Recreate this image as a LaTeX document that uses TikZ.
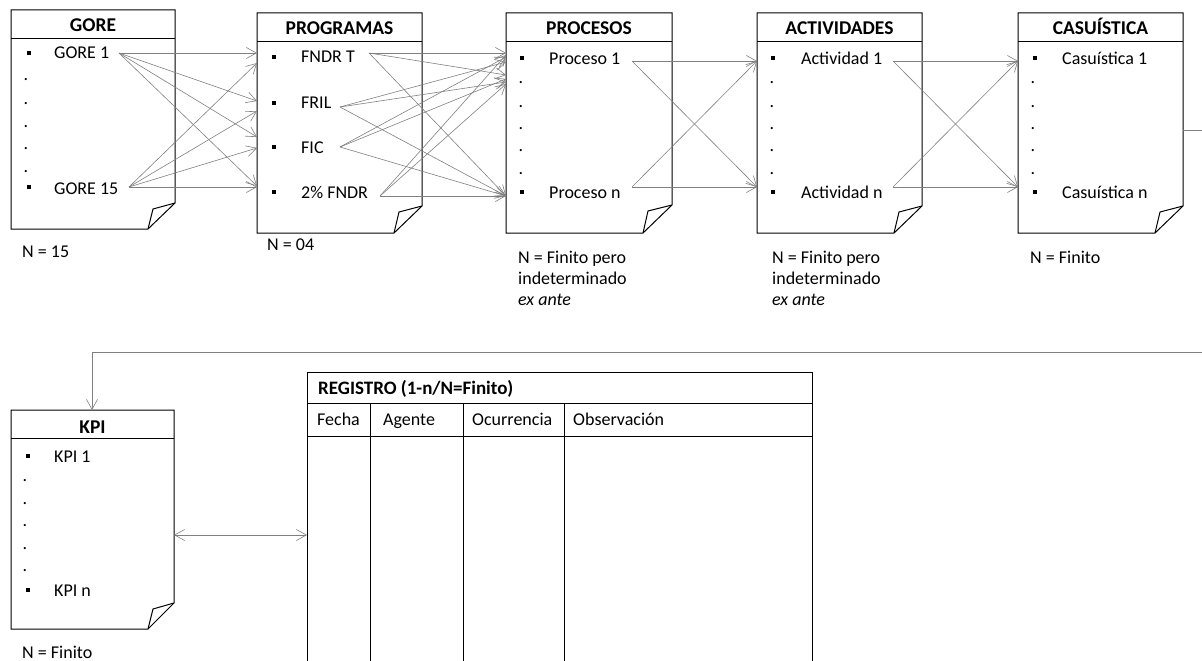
\documentclass[tikz,border=0pt]{standalone}
\usepackage{fontspec}
\setmainfont{Carlito}
\usetikzlibrary{arrows.meta}
\newcommand{\docshape}[7]{%
  \draw[boxline] (#1,#2) -- (#3,#2) -- (#3,#7) -- (#6,#4) -- (#1,#4) -- cycle;
  \draw[boxline] (#1,#5) -- (#3,#5);
  \draw[boxline] (#6,#4) -- (#6+5,#7+6) -- (#3,#7);
}
\begin{document}
\begin{tikzpicture}[x=1pt,y=-1pt,
  boxline/.style={draw=black,line width=1pt,line join=miter},
  tablel/.style={draw=black,line width=1pt},
  conn/.style={draw=black!50,line width=0.6pt,-{Straight Barb[length=10pt,width=11pt]}},
  dconn/.style={draw=black!50,line width=0.6pt,{Straight Barb[length=10pt,width=11pt]}-{Straight Barb[length=10pt,width=11pt]}},
  plain/.style={draw=black!50,line width=0.6pt},
  txt/.style={anchor=base west,inner sep=0pt,font=\fontsize{18}{21}\selectfont},
  ttl/.style={anchor=base,inner sep=0pt,font=\fontsize{19.5}{23}\selectfont\bfseries},
  ttlw/.style={anchor=base west,inner sep=0pt,font=\fontsize{19}{23}\selectfont\bfseries},
  bul/.style={fill=black,minimum size=4.5pt,inner sep=0pt},
  dot/.style={anchor=base,inner sep=0pt,font=\fontsize{18}{21}\selectfont},
]
\useasboundingbox (0,0) rectangle (1202,661);

% ---------- GORE ----------
\docshape{11}{10}{175}{229}{39}{148}{203}
\node[ttl] (goreT) at (93,32) {GORE};
\node[bul] (goreB1) at (29,53) {};
\node[txt] (gore1) at (54,59) {GORE 1};
\foreach \yy [count=\i] in {81,104,127,149,172} \node[dot] (gored\i) at (26,\yy) {.};
\node[bul] (goreB2) at (29,187) {};
\node[txt] (gore15) at (54,194) {GORE 15};
\node[txt] (goreN) at (22,257) {N = 15};

% ---------- PROGRAMAS ----------
\docshape{257}{13}{422}{233}{42}{394}{206}
\node[ttl] (progT) at (339.5,35) {PROGRAMAS};
\node[bul] (progB1) at (274,57) {};
\node[txt] (fndrt) at (301,63) {FNDR T};
\node[bul] (progB2) at (274,103) {};
\node[txt] (fril) at (301,108) {FRIL};
\node[bul] (progB3) at (274,147) {};
\node[txt] (fic) at (301,153) {FIC};
\node[bul] (progB4) at (274,192) {};
\node[txt] (fndr2) at (301,198) {2\% FNDR};
\node[txt] (progN) at (267,250) {N = 04};

% ---------- PROCESOS ----------
\docshape{506}{13}{672}{233}{42}{643}{205}
\node[ttl] (procT) at (589,35) {PROCESOS};
\node[bul] (procB1) at (522,58) {};
\node[txt] (proc1) at (549,64) {Proceso 1};
\foreach \yy [count=\i] in {84,107,129,151,174} \node[dot] (procd\i) at (521,\yy) {.};
\node[bul] (procB2) at (522,192) {};
\node[txt] (procn) at (549,198) {Proceso n};
\node[txt] (procN1) at (518,263) {N = Finito pero};
\node[txt] (procN2) at (518,284) {indeterminado};
\node[txt] (procN3) at (518,305) {\itshape ex ante};

% ---------- ACTIVIDADES ----------
\docshape{757}{13}{922}{233}{42}{894}{206}
\node[ttl] (actT) at (839.5,35) {ACTIVIDADES};
\node[bul] (actB1) at (773,58) {};
\node[txt] (act1) at (801,64) {Actividad 1};
\foreach \yy [count=\i] in {84,107,129,151,174} \node[dot] (actd\i) at (772,\yy) {.};
\node[bul] (actB2) at (773,192) {};
\node[txt] (actn) at (801,198) {Actividad n};
\node[txt] (actN1) at (772,263) {N = Finito pero};
\node[txt] (actN2) at (772,284) {indeterminado};
\node[txt] (actN3) at (772,305) {\itshape ex ante};

% ---------- CASUISTICA ----------
\docshape{1018}{13}{1183}{233}{42}{1155}{206}
\node[ttl] (casT) at (1100.5,35) {CASUÍSTICA};
\node[bul] (casB1) at (1035,58) {};
\node[txt] (cas1) at (1062,64) {Casuística 1};
\foreach \yy [count=\i] in {84,107,129,151,174} \node[dot] (casd\i) at (1033,\yy) {.};
\node[bul] (casB2) at (1035,192) {};
\node[txt] (casn) at (1062,198) {Casuística n};
\node[txt] (casN) at (1030,263) {N = Finito};

% ---------- KPI ----------
\docshape{11}{410}{174}{629}{438}{148}{603}
\node[ttl] (kpiT) at (92.5,433) {KPI};
\node[bul] (kpiB1) at (28,456) {};
\node[txt] (kpi1) at (54,462) {KPI 1};
\foreach \yy [count=\i] in {481,504,526,549,571} \node[dot] (kpid\i) at (25,\yy) {.};
\node[bul] (kpiB2) at (28,590) {};
\node[txt] (kpin) at (54,596) {KPI n};
\node[txt] (kpiN) at (22,658) {N = Finito};

% ---------- REGISTRO ----------
\draw[tablel] (307,661) -- (307,372) -- (812,372) -- (812,661);
\draw[tablel] (307,403) -- (812,403);
\draw[tablel] (307,436) -- (812,436);
\draw[tablel] (370,403) -- (370,661);
\draw[tablel] (463,403) -- (463,661);
\draw[tablel] (564,403) -- (564,661);
\node[ttlw] (regT) at (318,394) {REGISTRO (1-n/N=Finito)};
\node[txt] (colA) at (317,425) {Fecha};
\node[txt] (colB) at (383,425) {Agente};
\node[txt] (colC) at (472,425) {Ocurrencia};
\node[txt] (colD) at (573,425) {Observación};

% ---------- connector coordinates ----------
\coordinate (g1o) at (119,53);
\coordinate (g15o) at (129,187);
\foreach \yy [count=\i] in {53,101,137,186} \coordinate (pa\i) at (257,\yy);
\foreach \yy [count=\i] in {63,111,148,187} \coordinate (pb\i) at (257,\yy);

\coordinate (fndrto) at (369,53);
\coordinate (frilo) at (340,107);
\coordinate (fico) at (340,147);
\coordinate (fndr2o) at (380,196);
\coordinate (prlow) at (506,196);
\foreach \nm/\yy in {q1/53,q2/75,q3/62,q4/82,q5/57,q6/79,q7/55,q8/84} \coordinate (\nm) at (506,\yy);

\coordinate (p1o) at (632,61);
\coordinate (pno) at (632,187);
\coordinate (a1i) at (757,61);
\coordinate (ani) at (757,187);
\coordinate (a1o) at (893,61);
\coordinate (ano) at (893,187);
\coordinate (c1i) at (1018,61);
\coordinate (cni) at (1018,187);

\coordinate (caso) at (1183,130);
\coordinate (casx) at (1202,130);
\coordinate (retR) at (1202,352);
\coordinate (retL) at (92,352);
\coordinate (kpiin) at (92,410);
\coordinate (kpir) at (174,535);
\coordinate (regl) at (307,535);

% ---------- connectors ----------
\foreach \i in {1,...,4} {
  \draw[conn] (g1o) -- (pa\i);
  \draw[conn] (g15o) -- (pb\i);
}
\draw[conn] (fndrto) -- (q1);
\draw[conn] (fndrto) -- (q2);
\draw[conn] (fndrto) -- (prlow);
\draw[conn] (frilo) -- (q3);
\draw[conn] (frilo) -- (q4);
\draw[conn] (frilo) -- (prlow);
\draw[conn] (fico) -- (q5);
\draw[conn] (fico) -- (q6);
\draw[conn] (fico) -- (prlow);
\draw[conn] (fndr2o) -- (q7);
\draw[conn] (fndr2o) -- (q8);
\draw[conn] (fndr2o) -- (prlow);

\draw[conn] (p1o) -- (a1i);
\draw[conn] (p1o) -- (ani);
\draw[conn] (pno) -- (a1i);
\draw[conn] (pno) -- (ani);

\draw[conn] (a1o) -- (c1i);
\draw[conn] (a1o) -- (cni);
\draw[conn] (ano) -- (c1i);
\draw[conn] (ano) -- (cni);

\draw[plain] (caso) -- (casx);
\draw[conn] (retR) -- (retL) -- (kpiin);
\draw[dconn] (kpir) -- (regl);
\end{tikzpicture}
\end{document}
